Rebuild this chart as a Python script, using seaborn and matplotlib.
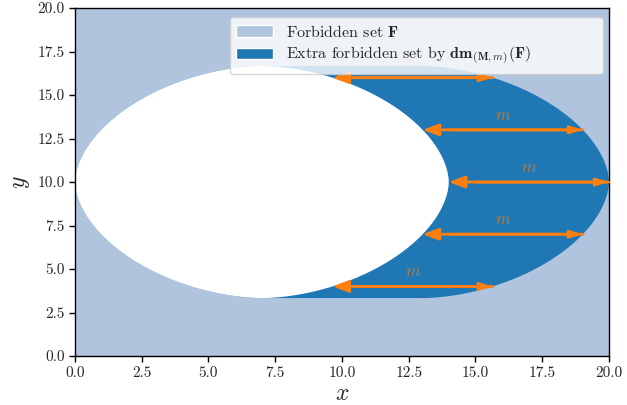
import numpy as np
import matplotlib
matplotlib.use("Agg")
import matplotlib.pyplot as plt
from matplotlib.patches import Patch
import seaborn as sns

# --- data / geometry ---
center_x = 7.0
center_y = 10.0
semi_x = 7.0
semi_y = 6.67
shape_exp = 1.8
m_shift = 6.0
arrow_levels = [4.0, 7.0, 10.0, 13.0, 16.0]
x_ticks = [0.0, 2.5, 5.0, 7.5, 10.0, 12.5, 15.0, 17.5, 20.0]
y_ticks = [0.0, 2.5, 5.0, 7.5, 10.0, 12.5, 15.0, 17.5, 20.0]
legend_labels = [r"Forbidden set $\mathbf{F}$",
                 r"Extra forbidden set by $\mathbf{dm}_{(\mathbf{M},m)}(\mathbf{F})$"]

sns.set_style("ticks")
plt.rcParams["font.family"] = "serif"
plt.rcParams["font.serif"] = ["cmr10", "DejaVu Serif"]
plt.rcParams["mathtext.fontset"] = "cm"
plt.rcParams["axes.formatter.use_mathtext"] = True
plt.rcParams["axes.unicode_minus"] = False

light = "#b0c4de"
dark = "#1f77b4"
orange = "#ff7f0e"

fig = plt.figure(figsize=(6.27, 4.05), dpi=100)
ax = fig.add_axes([0.1196, 0.121, 0.8516, 0.859])
ax.set_facecolor(light)

t = np.linspace(0, 2 * np.pi, 1441)
ct, st = np.cos(t), np.sin(t)
bx = center_x + semi_x * np.sign(ct) * np.abs(ct) ** (2 / shape_exp)
by = center_y + semi_y * np.sign(st) * np.abs(st) ** (2 / shape_exp)

tr = np.linspace(-np.pi / 2, np.pi / 2, 721)
tl = np.linspace(np.pi / 2, 3 * np.pi / 2, 721)
def sx(tt):
    c = np.cos(tt)
    return semi_x * np.sign(c) * np.abs(c) ** (2 / shape_exp)
def sy(tt):
    s = np.sin(tt)
    return semi_y * np.sign(s) * np.abs(s) ** (2 / shape_exp)
px = np.concatenate([center_x + m_shift + sx(tr), center_x + sx(tl)])
py = np.concatenate([center_y + sy(tr), center_y + sy(tl)])
ax.fill(px, py, color=dark, lw=0, zorder=1)
ax.fill(bx, by, color="white", lw=0, zorder=2)

def boundary_x(y):
    r = abs(y - center_y) / semi_y
    return center_x + semi_x * (1 - r ** shape_exp) ** (1 / shape_exp)

for yv in arrow_levels:
    x0 = boundary_x(yv)
    x1 = x0 + m_shift
    ax.annotate("", xy=(x0, yv), xytext=(x1, yv),
                arrowprops=dict(arrowstyle="-|>,head_width=0.3,head_length=0.8",
                                color=orange, lw=2,
                                mutation_scale=12, shrinkA=0, shrinkB=0),
                zorder=4)
    ax.annotate("", xy=(x1, yv), xytext=(x0 + 1, yv),
                arrowprops=dict(arrowstyle="-|>,head_width=0.22,head_length=0.72",
                                color=orange, lw=2,
                                mutation_scale=10, shrinkA=0, shrinkB=0),
                zorder=4)
    ax.text((x0 + x1) / 2, yv + 0.4, r"$m$", color=orange, alpha=0.7,
            ha="center", va="bottom", fontsize=12, zorder=4)

ax.set_xlim(0, 20)
ax.set_ylim(0, 20)
ax.set_xticks(x_ticks)
ax.set_yticks(y_ticks)
ax.set_xticklabels([f"{v:.1f}" for v in x_ticks])
ax.set_yticklabels([f"{v:.1f}" for v in y_ticks])
ax.tick_params(labelsize=11, length=4, width=1, color="black")
for s in ax.spines.values():
    s.set_color("black")
    s.set_linewidth(1)
ax.set_xlabel(r"$x$", fontsize=17, labelpad=2)
ax.set_ylabel(r"$y$", fontsize=17, labelpad=4)

handles = [Patch(facecolor=light, label=legend_labels[0]),
           Patch(facecolor=dark, label=legend_labels[1])]
leg = ax.legend(handles=handles, loc="upper left",
                bbox_to_anchor=(0.29, 0.974, 0.698, 0), mode="expand",
                borderaxespad=0, fontsize=11.5,
                frameon=True, framealpha=0.8, edgecolor="0.8", fancybox=True,
                handlelength=2.3, labelspacing=0.35)
leg.set_zorder(10)

fig.savefig("out.png", dpi=100)
